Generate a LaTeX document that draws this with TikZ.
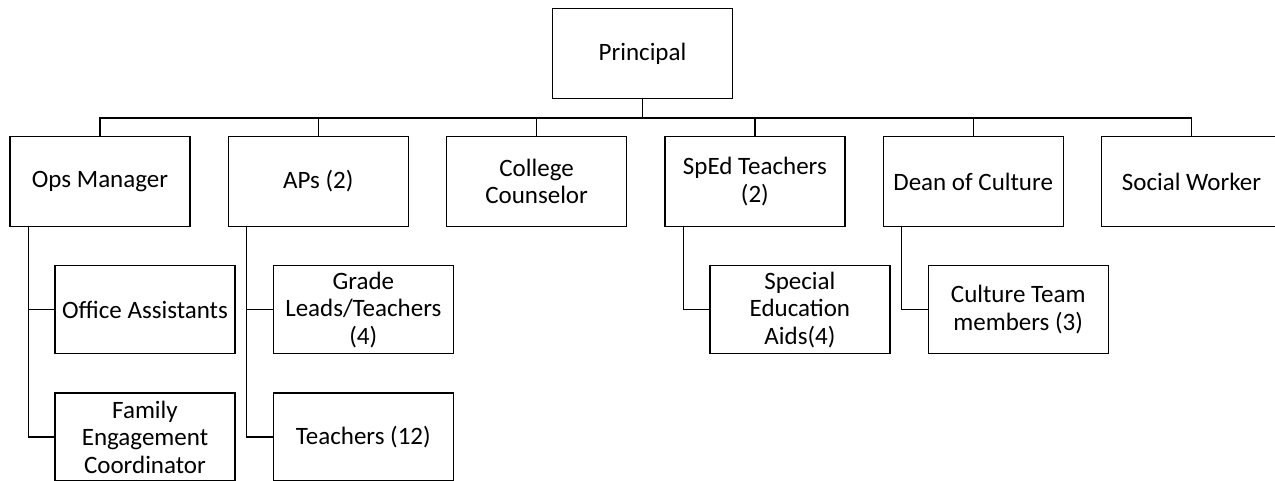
\documentclass[tikz,border=0pt]{standalone}
\usepackage{fontspec}
\setmainfont{Carlito}
\usepackage{tikz}
\usetikzlibrary{positioning}

\begin{document}
\begin{tikzpicture}[
  x=1pt, y=1pt,
  node distance=37pt,
  role/.style={rectangle, draw, line width=1.3pt, align=center, minimum width=180pt, minimum height=90pt, inner sep=2pt, font=\fontsize{25}{27.5}\selectfont},
  subrole/.style={role, minimum height=88pt},
  link/.style={line width=1.3pt}
]
\useasboundingbox (0,0) rectangle (1275,-481);
\node[role] (principal) at (642.5,-53.5) {Principal};
\node[role] (ops) at (100,-181.5) {Ops Manager};
\node[role, right=of ops] (aps) {APs (2)};
\node[role, right=of aps] (college) {College\\Counselor};
\node[role, right=of college] (sped) {SpEd Teachers\\(2)};
\node[role, right=of sped] (dean) {Dean of Culture};
\node[role, right=of dean] (social) {Social Worker};
\node[subrole, below=38pt of ops, xshift=45pt] (office) {Office Assistants};
\node[subrole, below=38pt of office] (family) {Family\\Engagement\\Coordinator};
\node[subrole, below=38pt of aps, xshift=45pt] (grade) {Grade\\Leads/Teachers\\(4)};
\node[subrole, below=38pt of grade] (teachers) {Teachers (12)};
\node[subrole, below=38pt of sped, xshift=45pt] (aids) {Special\\Education\\Aids(4)};
\node[subrole, below=38pt of dean, xshift=45pt] (team) {Culture Team\\members (3)};
\foreach \n in {ops,aps,college,sped,dean,social}
  \draw[link] (principal.south) -- ++(0,-19) -| (\n.north);
\foreach \p/\c in {ops/office,ops/family,aps/grade,aps/teachers,sped/aids,dean/team}
  \draw[link] ([xshift=19pt]\p.south west) |- (\c.west);
\end{tikzpicture}
\end{document}
